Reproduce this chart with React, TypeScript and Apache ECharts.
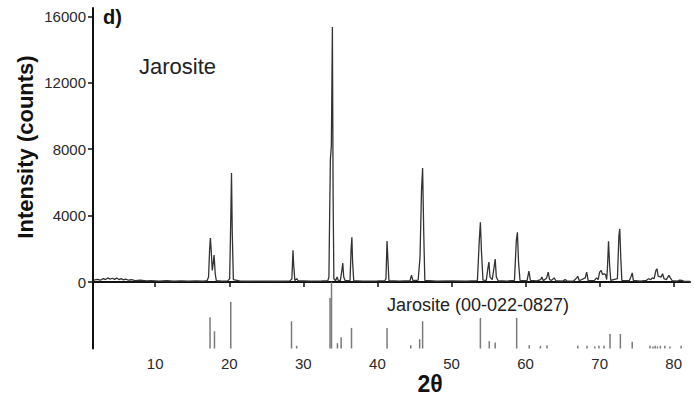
import React, { useEffect, useRef } from "react";
import * as echarts from "echarts";

// Measured diffraction trace: [2θ, counts]
const tracePoints: [number, number][] = [
  [1.7, 120], [2.2, 160], [2.6, 110], [3.0, 210], [3.3, 150], [3.6, 250], [3.9, 170], [4.2, 230],
  [4.5, 160], [4.8, 240], [5.1, 150], [5.4, 210], [5.7, 130], [6.0, 180], [6.4, 110], [6.8, 140],
  [7.3, 90], [8.0, 110], [8.8, 70], [9.5, 90], [10.5, 60], [11.5, 80], [12.5, 50], [13.5, 70],
  [14.5, 50], [15.5, 70], [16.5, 60], [17.0, 80],
  [17.2, 300], [17.35, 2000], [17.45, 2650], [17.6, 1600], [17.7, 700], [17.85, 1200], [17.95, 1620],
  [18.1, 500], [18.25, 80], [19.0, 60], [19.8, 70],
  [20.05, 200], [20.2, 3800], [20.3, 6560], [20.4, 3000], [20.55, 150], [21.5, 60], [23.0, 50],
  [25.0, 60], [27.0, 50], [28.2, 70],
  [28.45, 200], [28.6, 1920], [28.7, 1000], [28.85, 100], [29.1, 200], [29.3, 80],
  [31.0, 60], [32.5, 70], [33.3, 80],
  [33.45, 300], [33.55, 4000], [33.65, 7400], [33.78, 8200], [33.92, 15350], [34.02, 5000],
  [34.12, 200], [34.35, 80], [34.55, 300], [34.7, 100], [35.0, 100], [35.2, 700], [35.32, 1140],
  [35.45, 300], [35.65, 80],
  [36.3, 100], [36.45, 2000], [36.55, 2700], [36.65, 1200], [36.8, 80],
  [38.0, 60], [40.0, 70], [41.0, 80],
  [41.15, 200], [41.3, 2470], [41.4, 1500], [41.55, 80],
  [43.0, 60], [44.4, 80], [44.6, 420], [44.8, 80], [45.5, 120], [45.75, 1500], [45.95, 5500],
  [46.1, 6860], [46.25, 3000], [46.4, 100],
  [48.0, 60], [50.0, 70], [52.0, 60], [53.5, 90],
  [53.75, 2500], [53.9, 3600], [54.05, 1800], [54.25, 120], [54.7, 100], [54.9, 800], [55.05, 1200],
  [55.2, 300], [55.5, 150], [55.75, 900], [55.9, 1380], [56.05, 300], [56.3, 80],
  [57.5, 60], [58.5, 100], [58.75, 2500], [58.9, 3000], [59.05, 1200], [59.25, 100],
  [60.2, 80], [60.45, 660], [60.65, 100], [61.5, 70], [62.05, 150], [62.2, 300], [62.4, 80],
  [62.85, 250], [63.05, 600], [63.25, 150], [63.5, 100], [63.85, 250], [64.1, 80], [65.0, 60],
  [65.35, 150], [65.6, 60], [66.5, 60], [66.9, 250], [67.05, 350], [67.25, 80], [68.05, 250],
  [68.25, 600], [68.45, 80], [69.3, 100], [69.6, 250], [69.8, 150], [70.0, 600], [70.2, 700],
  [70.4, 450], [70.6, 500], [70.8, 450], [70.95, 150], [71.05, 800], [71.2, 2450], [71.35, 1000],
  [71.5, 100], [72.4, 200], [72.6, 2800], [72.72, 3200], [72.85, 1500], [73.0, 100], [74.0, 80],
  [74.25, 350], [74.4, 550], [74.55, 100], [75.5, 60], [76.3, 100], [76.6, 200], [76.9, 150],
  [77.1, 250], [77.35, 200], [77.6, 700], [77.75, 800], [77.9, 350], [78.3, 300], [78.5, 500],
  [78.7, 200], [79.0, 150], [79.35, 400], [79.55, 250], [79.8, 80], [80.5, 60], [80.8, 120],
  [81.1, 100], [81.4, 40], [82.2, 40],
];

// Reference pattern Jarosite (00-022-0827): positions (2θ) and relative intensities (%)
const stickPositions = [
  17.4, 18.0, 20.2, 28.4, 29.1, 33.6, 33.8, 34.6, 35.1, 36.5, 41.3, 44.5, 45.7, 46.1, 53.9, 55.1,
  55.9, 58.8, 60.5, 62.0, 62.9, 67.05, 68.3, 69.35, 69.9, 70.6, 71.4, 72.8, 74.4, 76.8, 77.2, 77.5,
  77.8, 78.2, 78.8, 79.5, 81.0,
];
const stickIntensities = [
  47, 26, 70, 41, 4, 76, 100, 8, 17, 31, 31, 5, 14, 41, 46, 11,
  9, 46, 5, 4, 5, 4, 4, 3, 4, 4, 22, 22, 10, 4, 3, 4,
  3, 4, 4, 3, 4,
];

const xTicks = [10, 20, 30, 40, 50, 60, 70, 80];
const yTicks = [0, 4000, 8000, 12000, 16000];

const X_MIN = 1.6;
const X_MAX = 82.2;
const Y_MIN = -4000;
const Y_MAX = 16500;
const STICK_SCALE = (0 - Y_MIN) / 100;

const FONT = "'Liberation Sans', Arial, Helvetica, sans-serif";

export default function App() {
  const ref = useRef<HTMLDivElement>(null);

  useEffect(() => {
    if (!ref.current) return;
    const chart = echarts.init(ref.current, null, { renderer: "svg" });
    const stickData = stickPositions.map((p, i) => [p, stickIntensities[i]]);

    chart.setOption({
      animation: false,
      backgroundColor: "#ffffff",
      grid: { left: 93, right: 4, top: 8, bottom: 53.5, containLabel: false },
      xAxis: {
        type: "value",
        min: X_MIN,
        max: X_MAX,
        axisLine: { show: true, lineStyle: { color: "#111", width: 2 } },
        axisTick: { show: true, customValues: xTicks, length: 5, lineStyle: { color: "#111", width: 1.5 } },
        axisLabel: {
          customValues: xTicks,
          formatter: (v: number) => String(v),
          color: "#2a2a2a",
          fontSize: 15,
          fontFamily: FONT,
          margin: 7,
        },
        splitLine: { show: false },
      },
      yAxis: {
        type: "value",
        min: Y_MIN,
        max: Y_MAX,
        axisLine: { show: true, lineStyle: { color: "#111", width: 2 } },
        axisTick: { show: true, customValues: yTicks, length: 5, lineStyle: { color: "#111", width: 1.5 } },
        axisLabel: {
          customValues: yTicks,
          formatter: (v: number) => String(v),
          color: "#2a2a2a",
          fontSize: 15,
          fontFamily: FONT,
          margin: 7,
        },
        splitLine: { show: false },
      },
      graphic: [
        {
          type: "text",
          left: 103,
          top: 7,
          style: { text: "d)", font: `bold 20px ${FONT}`, fill: "#111" },
        },
        {
          type: "text",
          left: 139,
          top: 55,
          style: { text: "Jarosite", font: `22px ${FONT}`, fill: "#222" },
        },
        {
          type: "text",
          left: 387,
          top: 296,
          style: { text: "Jarosite (00-022-0827)", font: `18px ${FONT}`, fill: "#222" },
        },
        {
          type: "text",
          x: 25,
          y: 147,
          rotation: Math.PI / 2,
          style: {
            text: "Intensity (counts)",
            font: `bold 22px ${FONT}`,
            fill: "#111",
            align: "center",
            verticalAlign: "middle",
          },
        },
        {
          type: "text",
          x: 430,
          y: 384,
          style: {
            text: "2θ",
            font: `bold 23px ${FONT}`,
            fill: "#111",
            align: "center",
            verticalAlign: "middle",
          },
        },
      ],
      series: [
        {
          type: "custom",
          data: stickData,
          z: 1,
          renderItem: (params: any, api: any) => {
            const x = api.value(0);
            const h = api.value(1);
            const p0 = api.coord([x, Y_MIN]);
            const p1 = api.coord([x, Y_MIN + h * STICK_SCALE]);
            return {
              type: "line",
              shape: { x1: p0[0], y1: p0[1], x2: p1[0], y2: p1[1] },
              style: { stroke: "#7a7a7a", lineWidth: 1.5 },
            };
          },
        },
        {
          type: "line",
          data: tracePoints,
          showSymbol: false,
          symbol: "none",
          z: 2,
          lineStyle: { color: "#333", width: 1.3 },
        },
      ],
    });

    return () => chart.dispose();
  }, []);

  return (
    <div
      ref={ref}
      style={{ position: "fixed", left: 0, top: 0, width: 694, height: 402, background: "#fff" }}
    />
  );
}
